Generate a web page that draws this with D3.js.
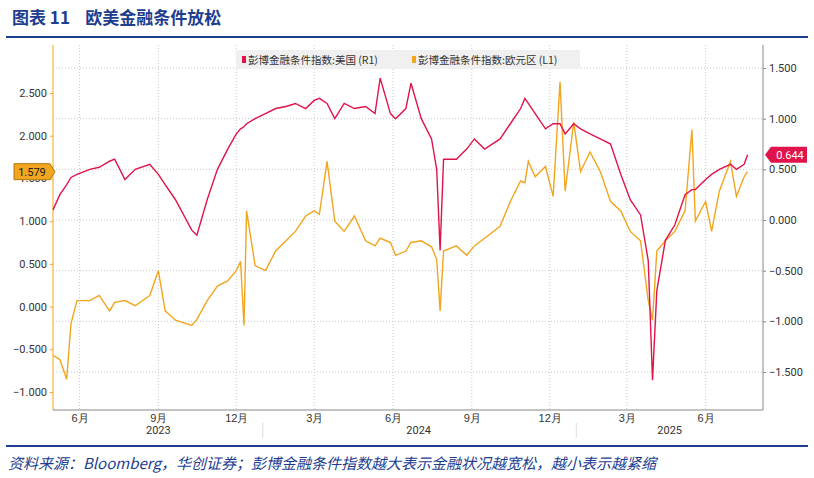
<!DOCTYPE html>
<html><head><meta charset="utf-8">
<script src="https://cdn.jsdelivr.net/npm/d3@7"></script>
<style>
body{margin:0;background:#fff;font-family:"Noto Sans CJK SC",sans-serif;}
</style></head><body>
<script>
var width = 814, height = 478;

var dates = ['2023-05-01','2023-05-09','2023-05-17','2023-05-22','2023-05-29','2023-06-13','2023-06-24','2023-07-06','2023-07-12','2023-07-24','2023-08-05','2023-08-22','2023-09-01','2023-09-09','2023-09-21','2023-10-10','2023-10-16','2023-10-28','2023-11-09','2023-11-21','2023-12-01','2023-12-06','2023-12-10','2023-12-13','2023-12-23','2024-01-04','2024-01-16','2024-01-28','2024-02-08','2024-02-20','2024-03-01','2024-03-07','2024-03-16','2024-03-25','2024-04-05','2024-04-17','2024-04-30','2024-05-11','2024-05-17','2024-05-29','2024-06-04','2024-06-16','2024-06-22','2024-07-04','2024-07-16','2024-07-22','2024-07-26','2024-07-30','2024-08-14','2024-08-26','2024-09-04','2024-09-16','2024-10-04','2024-10-16','2024-10-28','2024-11-02','2024-11-06','2024-11-14','2024-11-26','2024-12-05','2024-12-13','2024-12-19','2024-12-29','2025-01-06','2025-01-17','2025-01-29','2025-02-10','2025-02-22','2025-03-05','2025-03-17','2025-03-26','2025-03-31','2025-04-05','2025-04-15','2025-04-26','2025-05-08','2025-05-16','2025-05-20','2025-06-01','2025-06-08','2025-06-17','2025-06-30','2025-07-07','2025-07-16','2025-07-20'];
// 彭博金融条件指数:美国 (R1)
var usValues = [0.10,0.25,0.35,0.42,0.45,0.50,0.52,0.58,0.60,0.40,0.50,0.55,0.45,0.35,0.20,-0.10,-0.15,0.20,0.50,0.70,0.85,0.90,0.92,0.95,1.00,1.05,1.10,1.12,1.15,1.10,1.18,1.20,1.15,1.00,1.15,1.10,1.12,1.05,1.40,1.05,1.00,1.10,1.35,1.00,0.80,0.50,-0.30,0.60,0.60,0.70,0.80,0.70,0.80,0.95,1.10,1.20,1.15,1.05,0.90,0.95,0.95,0.85,0.95,0.90,0.85,0.80,0.75,0.45,0.20,0.05,-0.40,-1.58,-0.70,-0.20,-0.05,0.25,0.30,0.30,0.40,0.45,0.50,0.55,0.50,0.55,0.644];
// 彭博金融条件指数:欧元区 (L1)
var euValues = [-0.57,-0.62,-0.85,-0.20,0.07,0.07,0.13,-0.05,0.05,0.07,0.01,0.13,0.42,-0.05,-0.16,-0.22,-0.15,0.07,0.24,0.30,0.42,0.53,-0.22,1.12,0.48,0.42,0.65,0.77,0.88,1.06,1.12,1.08,1.70,1.00,0.88,1.06,0.77,0.71,0.80,0.75,0.60,0.65,0.75,0.77,0.70,0.55,-0.05,0.65,0.71,0.60,0.71,0.80,0.94,1.23,1.47,1.45,1.70,1.52,1.64,1.29,2.63,1.35,2.16,1.58,1.81,1.58,1.23,1.12,0.88,0.77,0.07,-0.16,0.65,0.77,0.88,1.12,2.07,1.00,1.23,0.88,1.35,1.70,1.29,1.52,1.579];

var leftTicks = [-1.0,-0.5,0,0.5,1.0,1.5,2.0,2.5];
var rightTicks = [-1.5,-1.0,-0.5,0,0.5,1.0,1.5];
var monthTicks = ['2023-06-01','2023-09-01','2023-12-01','2024-03-01','2024-06-01','2024-09-01','2024-12-01','2025-03-01','2025-06-01'];
var years = ['2023','2024','2025'];

var red = '#e0134a', orange = '#f2a51e', blue = '#1d3d8f';
var parse = d3.timeParse('%Y-%m-%d');

var svg = d3.select('body').append('svg').attr('width', width).attr('height', height);

// header
svg.append('text').attr('x', 12).attr('y', 24).attr('fill', blue)
  .attr('font-size', 17).attr('font-weight', 'bold').attr('font-family', '"Noto Sans CJK SC"')
  .style('white-space', 'pre')
  .text('图表 11    欧美金融条件放松');
svg.append('line').attr('x1', 6).attr('x2', 808).attr('y1', 37).attr('y2', 37).attr('stroke', blue).attr('stroke-width', 2);
svg.append('line').attr('x1', 6).attr('x2', 808).attr('y1', 446).attr('y2', 446).attr('stroke', blue).attr('stroke-width', 2);
svg.append('text').attr('x', 8).attr('y', 469).attr('fill', blue).attr('font-size', 15)
  .attr('font-style', 'italic').attr('font-family', '"Noto Sans CJK SC"')
  .text('资料来源：Bloomberg，华创证券；彭博金融条件指数越大表示金融状况越宽松，越小表示越紧缩');

var L = 53, R = 763, T = 45, B = 410;
var x = d3.scaleTime().domain([parse('2023-05-01'), parse('2025-08-07')]).range([L, R]);
var yl = d3.scaleLinear().domain([-1.0, 2.5]).range([392, 93]);
var yr = d3.scaleLinear().domain([-1.5, 1.5]).range([372, 68]);

// grid
svg.append('g').selectAll('line').data(rightTicks).enter().append('line')
  .attr('x1', L).attr('x2', R).attr('y1', function (d) { return yr(d); }).attr('y2', function (d) { return yr(d); })
  .attr('stroke', '#c8c8c8').attr('stroke-dasharray', '1,2');
svg.append('g').selectAll('line').data(monthTicks).enter().append('line')
  .attr('x1', function (d) { return x(parse(d)); }).attr('x2', function (d) { return x(parse(d)); })
  .attr('y1', T).attr('y2', B).attr('stroke', '#c8c8c8').attr('stroke-dasharray', '1,2');

// axes
svg.append('line').attr('x1', L).attr('x2', L).attr('y1', T).attr('y2', B).attr('stroke', orange);
svg.append('line').attr('x1', R).attr('x2', R).attr('y1', T).attr('y2', B).attr('stroke', '#888');
svg.append('line').attr('x1', L).attr('x2', R).attr('y1', B).attr('y2', B).attr('stroke', '#888');

var fmt = d3.format('.3f');
svg.append('g').attr('transform', 'translate(' + L + ',0)')
  .call(d3.axisLeft(yl).tickValues(leftTicks).tickFormat(fmt).tickSize(3))
  .call(function (g) { g.select('.domain').remove(); g.selectAll('line').attr('stroke', orange); g.selectAll('text').attr('font-size', 11).attr('fill', '#333').attr('font-family', 'Roboto'); });
svg.append('g').attr('transform', 'translate(' + R + ',0)')
  .call(d3.axisRight(yr).tickValues(rightTicks).tickFormat(fmt).tickSize(3))
  .call(function (g) { g.select('.domain').remove(); g.selectAll('line').attr('stroke', '#888'); g.selectAll('text').attr('font-size', 11).attr('fill', '#333').attr('font-family', 'Roboto'); });
svg.append('g').attr('transform', 'translate(0,' + B + ')')
  .call(d3.axisBottom(x).tickValues(monthTicks.map(parse)).tickFormat(function (d) { return (d.getMonth() + 1) + '月'; }).tickSize(0).tickPadding(4))
  .call(function (g) { g.select('.domain').remove(); g.selectAll('text').attr('font-size', 11).attr('fill', '#333'); });

var yearMid = [parse('2023-09-01'), parse('2024-07-01'), parse('2025-04-20')];
svg.append('g').selectAll('text').data(years).enter().append('text')
  .attr('x', function (d, i) { return x(yearMid[i]); }).attr('y', 434).attr('text-anchor', 'middle')
  .attr('font-size', 11).attr('fill', '#333').attr('font-family', 'Roboto').text(function (d) { return d; });
svg.append('g').selectAll('line').data(['2024-01-01', '2025-01-01']).enter().append('line')
  .attr('x1', function (d) { return x(parse(d)); }).attr('x2', function (d) { return x(parse(d)); })
  .attr('y1', 423).attr('y2', 438).attr('stroke', '#ddd');

// lines
var rows = dates.map(function (d, i) { return { date: parse(d), us: usValues[i], eu: euValues[i] }; });
svg.append('path').datum(rows).attr('fill', 'none').attr('stroke', orange).attr('stroke-width', 1.4)
  .attr('d', d3.line().x(function (d) { return x(d.date); }).y(function (d) { return yl(d.eu); }));
svg.append('path').datum(rows).attr('fill', 'none').attr('stroke', red).attr('stroke-width', 1.4)
  .attr('d', d3.line().x(function (d) { return x(d.date); }).y(function (d) { return yr(d.us); }));

// last value tags
var lastEu = euValues[euValues.length - 1], lastUs = usValues[usValues.length - 1];
svg.append('path').attr('d', 'M14,' + (yl(lastEu) - 8) + 'h36l5,8l-5,8h-36z').attr('fill', orange).attr('stroke', '#b07a10');
svg.append('text').attr('x', 32).attr('y', yl(lastEu) + 4).attr('text-anchor', 'middle').attr('font-size', 11).attr('font-family', 'Roboto').attr('fill', '#222').text(fmt(lastEu));
svg.append('path').attr('d', 'M' + (R + 2) + ',' + yr(lastUs) + 'l6,-8h36v16h-36z').attr('fill', red);
svg.append('text').attr('x', R + 27).attr('y', yr(lastUs) + 4).attr('text-anchor', 'middle').attr('font-size', 11).attr('font-family', 'Roboto').attr('fill', '#fff').text(fmt(lastUs));

// legend
var lg = svg.append('g').attr('transform', 'translate(236,50)');
lg.append('rect').attr('width', 344).attr('height', 19).attr('fill', '#f0f0f0');
lg.append('rect').attr('x', 6).attr('y', 6).attr('width', 4).attr('height', 7).attr('fill', red);
lg.append('text').attr('x', 12).attr('y', 14).attr('font-size', 10.5).attr('fill', '#333').text('彭博金融条件指数:美国 (R1)');
lg.append('rect').attr('x', 176).attr('y', 6).attr('width', 4).attr('height', 7).attr('fill', orange);
lg.append('text').attr('x', 182).attr('y', 14).attr('font-size', 10.5).attr('fill', '#333').text('彭博金融条件指数:欧元区 (L1)');
</script>
</body></html>
